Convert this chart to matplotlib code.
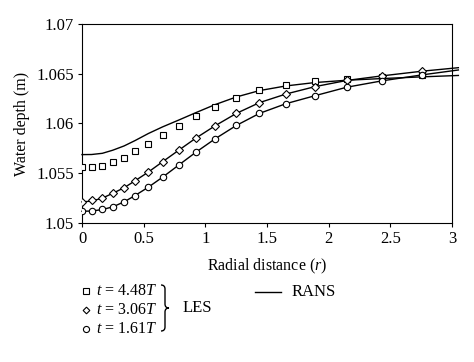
import numpy as np
import matplotlib
matplotlib.use('Agg')
from matplotlib import pyplot as plt
from matplotlib.path import Path
from matplotlib.patches import PathPatch
from matplotlib.lines import Line2D

plt.rcParams['font.family'] = ['Liberation Serif', 'DejaVu Serif']
plt.rcParams['mathtext.fontset'] = 'custom'
plt.rcParams['mathtext.it'] = 'Liberation Serif:italic'
plt.rcParams['mathtext.rm'] = 'Liberation Serif'

# LES sample points
r_les = [0, 0.078, 0.165, 0.249, 0.341, 0.430, 0.538, 0.654, 0.784, 0.922,
         1.078, 1.251, 1.438, 1.654, 1.889, 2.146, 2.432, 2.757]
les_448 = [1.05562, 1.05562, 1.05576, 1.05609, 1.05653, 1.05724, 1.05798, 1.05882, 1.05973, 1.06071,
           1.06165, 1.06259, 1.06333, 1.06391, 1.06424, 1.06451, 1.06465, 1.06485]
les_306 = [1.05212, 1.05226, 1.05253, 1.05300, 1.05354, 1.05424, 1.05512, 1.05616, 1.05731, 1.05852,
           1.05976, 1.06101, 1.06209, 1.06296, 1.06370, 1.06438, 1.06478, 1.06529]
les_161 = [1.05118, 1.05125, 1.05141, 1.05165, 1.05212, 1.05276, 1.05360, 1.05461, 1.05582, 1.05710,
           1.05845, 1.05980, 1.06101, 1.06199, 1.06279, 1.06364, 1.06428, 1.06488]

# RANS curves
r_rans = [0, 0.078, 0.165, 0.249, 0.341, 0.430, 0.538, 0.654, 0.784, 0.922,
          1.078, 1.251, 1.438, 1.654, 1.889, 2.146, 2.432, 2.757, 3.05]
rans_448 = [1.05687, 1.05688, 1.05700, 1.05731, 1.05774, 1.05828, 1.05899, 1.05966, 1.06034, 1.06108,
            1.06189, 1.06266, 1.06330, 1.06377, 1.06411, 1.06434, 1.06451, 1.06468, 1.06482]
rans_306 = [1.05212, 1.05220, 1.05250, 1.05298, 1.05354, 1.05424, 1.05512, 1.05616, 1.05731, 1.05852,
            1.05976, 1.06101, 1.06209, 1.06296, 1.06370, 1.06432, 1.06478, 1.06525, 1.06560]
rans_161 = [1.05118, 1.05120, 1.05135, 1.05162, 1.05212, 1.05276, 1.05360, 1.05461, 1.05582, 1.05710,
            1.05845, 1.05980, 1.06101, 1.06199, 1.06279, 1.06364, 1.06428, 1.06488, 1.06537]

xticks = [0, 0.5, 1, 1.5, 2, 2.5, 3]
yticks = [1.05, 1.055, 1.06, 1.065, 1.07]

fig = plt.figure(figsize=(4.74, 3.62), dpi=100)
ax = fig.add_axes([0.173, 0.384, 0.781, 0.550])

for rr in [rans_448, rans_306, rans_161]:
    ax.plot(r_rans, rr, color='black', lw=1.0, clip_on=False, zorder=2)

mk = dict(mfc='white', mec='black', mew=0.8, ls='none', zorder=3)
ax.plot(r_les, les_448, marker='s', ms=4.6, **mk)
ax.plot(r_les, les_306, marker='D', ms=3.6, **mk)
ax.plot(r_les, les_161, marker='o', ms=4.6, **mk)

ax.set_xlim(0, 3)
ax.set_ylim(1.05, 1.07)
ax.set_xticks(xticks)
ax.set_xticklabels(['%g' % v for v in xticks])
ax.set_yticks(yticks)
ax.set_yticklabels(['%g' % v for v in yticks])
ax.tick_params(direction='out', length=3, width=0.8, labelsize=12, pad=3)
for s in ax.spines.values():
    s.set_linewidth(0.8)

ax.set_xlabel('Radial distance ($\\it{r}$)', fontsize=11.5, labelpad=7)
ax.set_ylabel('Water depth (m)', fontsize=11.5, labelpad=4)

# legend drawn by hand (figure pixel coords, origin at top-left)
W, H = 474, 362
def fx(px): return px / W
def fy(py): return 1 - py / H

legend_rows = [('s', 4.2, '$t$ = 4.48$T$', 291), ('D', 3.4, '$t$ = 3.06$T$', 310), ('o', 4.4, '$t$ = 1.61$T$', 329)]
for m, s, lab, py in legend_rows:
    fig.lines.append(Line2D([fx(86)], [fy(py)], marker=m, ms=s, mfc='white', mec='black', mew=0.8,
                            transform=fig.transFigure))
    fig.text(fx(96), fy(py), lab, fontsize=11.5, va='center', ha='left')

# brace
bx, by0, by1 = 161, 285, 331
ym = (by0 + by1) / 2
verts = [(bx, by0), (bx + 4, by0), (bx + 4, by0 + 4), (bx + 4, ym - 4),
         (bx + 4, ym), (bx + 8, ym),
         (bx + 4, ym), (bx + 4, ym + 4),
         (bx + 4, by1 - 4), (bx + 4, by1), (bx, by1)]
codes = [Path.MOVETO, Path.CURVE3, Path.CURVE3, Path.LINETO,
         Path.CURVE3, Path.CURVE3,
         Path.CURVE3, Path.CURVE3,
         Path.LINETO, Path.CURVE3, Path.CURVE3]
verts_f = [(fx(x), fy(y)) for x, y in verts]
fig.patches.append(PathPatch(Path(verts_f, codes), fc='none', ec='black', lw=1.0,
                             transform=fig.transFigure))
fig.text(fx(183), fy(ym), 'LES', fontsize=12, va='center', ha='left')

fig.lines.append(Line2D([fx(255), fx(281)], [fy(292), fy(292)], color='black', lw=1.0,
                        transform=fig.transFigure))
fig.text(fx(292), fy(292), 'RANS', fontsize=12, va='center', ha='left')

fig.savefig('out.png', dpi=100)
